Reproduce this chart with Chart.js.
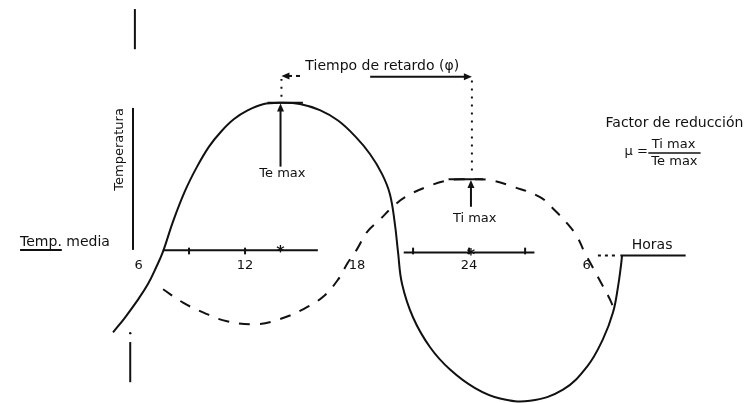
<!DOCTYPE html>
<html><head><meta charset="utf-8">
<script src="https://cdn.jsdelivr.net/npm/chart.js@4.4.1/dist/chart.umd.min.js"></script>
<style>html,body{margin:0;padding:0;background:#fff;overflow:hidden}#wrap{width:754px;height:403px}</style>
</head><body><div id="wrap"><canvas id="c" width="754" height="403"></canvas></div>
<script>
// Outside temperature (solid curve): hour of day vs deviation from mean
const teHours = [4.93,5.57,6.21,6.80,7.23,7.61,8.14,8.78,9.43,10.07,10.71,11.41,12.16,12.96,13.87,14.94,16.01,16.98,17.89,18.69,19.34,19.76,20.03,20.19,20.41,21.0,21.91,22.98,24.32,25.66,27.26,29.03,30.32,31.17,31.71,31.98,32.14,32.19];
const teTemp  = [-5.45,-4.45,-3.35,-2.2,-1.1,0,2.0,4.05,5.7,7.05,8.05,8.9,9.5,9.9,10.0,9.92,9.5,8.8,7.75,6.55,5.2,3.85,1.8,0,-2.2,-4.45,-6.45,-7.95,-9.2,-9.9,-10.05,-9.3,-7.75,-5.9,-4.1,-2.35,-0.9,-0.3];
// Inside temperature (dashed curve)
const tiHours = [7.61,8.68,9.75,11.03,12.64,13.87,15.10,16.18,16.98,17.51,18.00,18.53,19.23,19.87,20.57,21.75,22.98,24.05,25.12,26.35,27.80,28.60,29.24,29.78,30.16,30.48,31.17,31.55,31.76];
const tiTemp  = [-2.55,-3.45,-4.1,-4.7,-4.9,-4.55,-3.9,-3.05,-1.9,-0.75,0.15,1.3,2.15,2.95,3.65,4.35,4.8,4.85,4.8,4.35,3.65,2.75,1.9,1.0,0,-0.75,-2.35,-3.25,-3.9];
// Axis tick labels (hours)
const tickHours  = [6,12,18,24,30];
const tickLabels = ['6','12','18','24','6'];
const minorTicks = [9,12,21,24,27];
// Key values
const teMaxHour = 13.9, teMax = 10.0;
const tiMaxHour = 24.1, tiMax = 4.85;

const FONT = '"DejaVu Sans", sans-serif';
const K = '#111';

const annot = {
  id: 'annot',
  afterDatasetsDraw(chart) {
    const c = chart.ctx, xs = chart.scales.x, ys = chart.scales.y;
    const X = v => xs.getPixelForValue(v), Y = v => ys.getPixelForValue(v);
    c.save();
    c.strokeStyle = K; c.fillStyle = K; c.lineCap = 'butt';
    function seg(x1,y1,x2,y2,w,dash){c.beginPath();c.lineWidth=w||2;c.setLineDash(dash||[]);c.moveTo(X(x1),Y(y1));c.lineTo(X(x2),Y(y2));c.stroke();c.setLineDash([]);}
    function head(x,y,ang){const px=X(x),py=Y(y),s=8,w=3.5;c.save();c.translate(px,py);c.rotate(ang);c.beginPath();c.moveTo(0,0);c.lineTo(-s,-w);c.lineTo(-s,w);c.closePath();c.fill();c.restore();}
    function txt(s,x,y,size,align,base){c.font=size+'px '+FONT;c.textAlign=align||'center';c.textBaseline=base||'middle';c.fillText(s,X(x),Y(y));}

    // vertical temperature axis (at 6 h)
    seg(6.1,16.3,6.1,13.6,2);
    seg(6.0,9.65,6.0,0.1,2);
    seg(5.85,-6.1,5.85,-8.8,2);
    c.beginPath();c.arc(X(5.85),Y(-5.5),1.2,0,Math.PI*2);c.fill();
    // horizontal (time) axis
    seg(7.6,0.07,15.9,0.07,2);
    seg(20.5,-0.07,27.5,-0.07,2);
    seg(30.9,-0.27,32.0,-0.27,2,[3,4]);
    seg(32.1,-0.27,35.6,-0.27,2);
    minorTicks.forEach(h=>{seg(h,0.25,h,-0.2,2);});
    c.font='bold 16px '+FONT;c.textAlign='center';c.textBaseline='middle';
    c.fillText('*',X(teMaxHour),Y(0.07)+3);
    c.fillText('*',X(tiMaxHour),Y(-0.07)+3);
    tickHours.forEach((h,i)=>txt(tickLabels[i],h+(i===0||i===4?0.3:0),-0.95,13));

    // labels
    txt('Temp. media',-0.05,0.6,14,'left');
    c.font='14px '+FONT; const tw=c.measureText('Temp.').width;
    c.lineWidth=2;c.beginPath();c.moveTo(X(-0.05),Y(0.1));c.lineTo(X(-0.05)+tw,Y(0.1));c.stroke();
    txt('Horas',33.8,0.4,14);
    c.save();c.translate(X(5.3),Y(6.86));c.rotate(-Math.PI/2);c.font='13px '+FONT;c.textAlign='center';c.textBaseline='middle';c.fillText('Temperatura',0,0);c.restore();

    // Te max arrow
    seg(teMaxHour,5.7,teMaxHour,teMax-0.3,2); head(teMaxHour,teMax-0.05,-Math.PI/2);
    seg(13.2,teMax,15.1,teMax,2);
    txt('Te max',14.0,5.2,13);
    // Ti max arrow
    seg(tiMaxHour,3.0,tiMaxHour,tiMax-0.3,2); head(tiMaxHour,tiMax-0.05,-Math.PI/2);
    seg(22.9,tiMax,24.75,tiMax,2);
    txt('Ti max',tiMaxHour+0.2,2.2,13);

    // dotted guides
    seg(teMaxHour+0.05,10.4,teMaxHour+0.05,11.6,2,[2,6]);
    seg(tiMaxHour+0.05,11.5,tiMaxHour+0.05,5.2,2,[2,6]);
    // time lag arrow
    seg(teMaxHour+0.4,11.8,15.1,11.8,2,[4,4]);
    head(teMaxHour+0.05,11.8,Math.PI);
    seg(18.7,11.75,tiMaxHour-0.3,11.75,2);
    head(tiMaxHour+0.05,11.75,0);
    txt('Tiempo de retardo (φ)',19.35,12.45,14);

    // reduction factor
    txt('Factor de reducción',35.0,8.6,14);
    txt('μ =',32.95,6.7,13);
    txt('Ti max',34.95,7.15,13);
    seg(33.6,6.62,36.4,6.62,1.5);
    txt('Te max',35.0,6.05,13);
    c.restore();
  }
};

new Chart(document.getElementById('c'), {
  type: 'scatter',
  data: { datasets: [
    { data: teHours.map((h,i)=>({x:h,y:teTemp[i]})), showLine:true, borderColor:K, borderWidth:2, pointRadius:0, tension:0.4, fill:false },
    { data: tiHours.map((h,i)=>({x:h,y:tiTemp[i]})), showLine:true, borderColor:K, borderWidth:2, borderDash:[11,10], pointRadius:0, tension:0.4, fill:false }
  ]},
  options: {
    responsive:false, animation:false, devicePixelRatio:1,
    layout:{padding:0},
    plugins:{legend:{display:false}, tooltip:{enabled:false}},
    scales:{
      x:{type:'linear', display:false, min:-1.125, max:39.26},
      y:{type:'linear', display:false, min:-10.2, max:16.91}
    }
  },
  plugins:[annot]
});
</script>
</body></html>
